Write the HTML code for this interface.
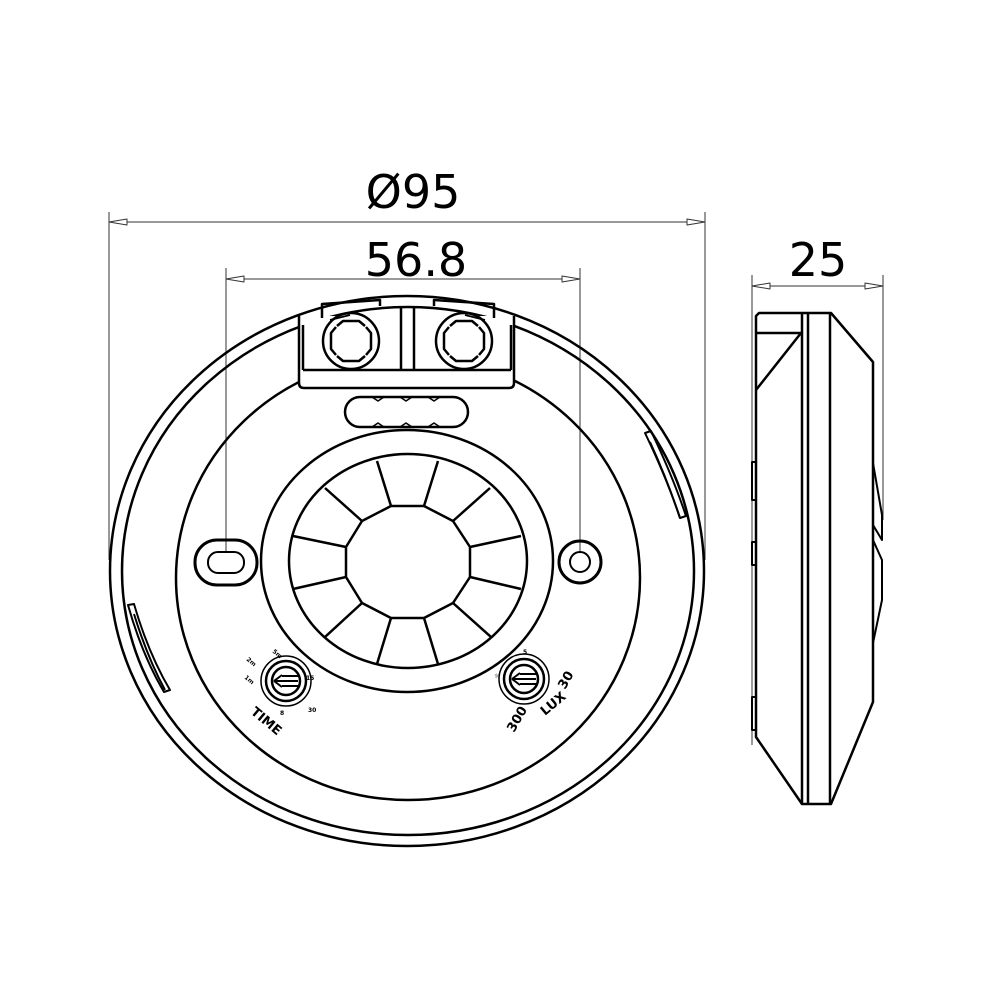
<!DOCTYPE html>
<html><head><meta charset="utf-8"><style>
html,body{margin:0;padding:0;background:#fff;width:1000px;height:1000px;overflow:hidden}
svg{display:block}
text{font-family:"DejaVu Sans","Liberation Sans",sans-serif;fill:#000}
</style></head><body>
<svg width="1000" height="1000" viewBox="0 0 1000 1000" xmlns="http://www.w3.org/2000/svg">
<g fill="none" stroke="#000" stroke-linejoin="round">
<!-- dimension lines -->
<g stroke-width="1" stroke="#333">
<line x1="109" y1="212" x2="109" y2="560"/>
<line x1="705" y1="212" x2="705" y2="560"/>
<line x1="109" y1="222" x2="705" y2="222"/>
<polygon points="109,222 127,219 127,225" fill="#fff"/>
<polygon points="705,222 687,219 687,225" fill="#fff"/>
<line x1="226" y1="268" x2="226" y2="552"/>
<line x1="580" y1="268" x2="580" y2="552"/>
<line x1="226" y1="279" x2="580" y2="279"/>
<polygon points="226,279 244,276 244,282" fill="#fff"/>
<polygon points="580,279 562,276 562,282" fill="#fff"/>
<line x1="752" y1="275" x2="752" y2="745"/>
<line x1="883" y1="275" x2="883" y2="520"/>
<line x1="752" y1="286" x2="883" y2="286"/>
<polygon points="752,286 770,283 770,289" fill="#fff"/>
<polygon points="883,286 865,283 865,289" fill="#fff"/>
</g>
<!-- front body -->
<g stroke-width="2.5">
<ellipse cx="407" cy="571" rx="297" ry="275"/>
<ellipse cx="408" cy="571" rx="286" ry="264"/>
<ellipse cx="408" cy="578" rx="232" ry="222"/>
<ellipse cx="407" cy="561" rx="146" ry="131"/>
<ellipse cx="408" cy="561" rx="119" ry="107"/>
<polygon points="391,506 424,506 453,521 470,547 470,577 453,603 424,618 391,618 362,603 346,577 346,547 362,521"/>
<path d="M391,506L377,461M424,506L438,461M453,521L490,488M470,547L521,536M470,577L521,589M453,603L491,637M424,618L438,664M391,618L377,664M362,603L325,637M346,577L293,589M346,547L293,536M362,521L325,488"/>
</g>
<!-- terminal block -->
<g stroke-width="2.5">
<rect x="300" y="316" width="214" height="72" rx="5" fill="#fff" stroke="none"/>
<path d="M299,316 L299,383 Q299,388 304,388 L509,388 Q514,388 514,383 L514,316"/>
<path d="M322,318 L322,304 L380,300 L380,306"/>
<path d="M434,306 L434,300 L494,304 L494,318"/>
<path d="M330,320 L350,315 M465,315 L485,320" stroke-width="1.8"/>
<line x1="303" y1="370" x2="511" y2="370"/>
<line x1="401" y1="308" x2="401" y2="370"/>
<line x1="414" y1="308" x2="414" y2="370"/>
<line x1="303" y1="325" x2="303" y2="370"/>
<line x1="511" y1="325" x2="511" y2="370"/>
<circle cx="351" cy="341" r="28"/>
<circle cx="464" cy="341" r="28"/>
<path d="M337,326 L343,321 L359,321 L365,326 M366,327 L371,333 L371,349 L366,355 M365,356 L359,361 L343,361 L337,356 M336,355 L331,349 L331,333 L336,327"/>
<path d="M450,326 L456,321 L472,321 L478,326 M479,327 L484,333 L484,349 L479,355 M478,356 L472,361 L456,361 L450,356 M449,355 L444,349 L444,333 L449,327"/>
<rect x="345" y="397" width="123" height="30" rx="15"/>
<path d="M372,397l6,4 6,-4 M400,397l6,4 6,-4 M428,397l6,4 6,-4 M372,427l6,-4 6,4 M400,427l6,-4 6,4 M428,427l6,-4 6,4" stroke-width="1.5"/>
</g>
<!-- mounting holes -->
<g stroke-width="3">
<rect x="195" y="540" width="62" height="45" rx="22"/>
<rect x="208" y="552" width="36" height="21" rx="10" stroke-width="2"/>
<circle cx="580" cy="562" r="21"/>
<circle cx="580" cy="562" r="10" stroke-width="2"/>
</g>
<!-- side notches on rim -->
<g stroke-width="2">
<path d="M645,433 L651,431 C664,458 676,486 686,516 L680,518 C670,488 658,460 645,433Z"/>
<path d="M650,442 C662,468 672,494 680,518"/>
<path d="M128,605 L134,604 C143,635 154,663 170,690 L164,692 C148,665 137,637 128,605Z"/>
<path d="M134,614 C142,640 152,666 165,690"/>
</g>
<!-- knobs -->
<g stroke-width="2.5">
<circle cx="286" cy="681" r="25" stroke-width="1.5"/>
<circle cx="286" cy="681" r="20"/>
<circle cx="286" cy="681" r="14"/>
<path d="M274,681 L298,681 M274,681 l8,-6 M274,681 l8,6 M282,676 L298,676 M282,686 L298,686" stroke-width="2"/>
<circle cx="524" cy="679" r="25" stroke-width="1.5"/>
<circle cx="524" cy="679" r="20"/>
<circle cx="524" cy="679" r="14"/>
<path d="M512,679 L536,679 M512,679 l8,-6 M512,679 l8,6 M520,674 L536,674 M520,684 L536,684" stroke-width="2"/>
</g>
<!-- side view -->
<g stroke-width="2.5">
<path d="M759,313 L831,313 L873,362 L873,702 L831,804 L802,804 L756,737 L756,316 Z"/>
<line x1="802" y1="313" x2="802" y2="804"/>
<line x1="808" y1="313" x2="808" y2="804"/>
<line x1="830" y1="313" x2="830" y2="804"/>
<path d="M756,333 L801,333 L756,390"/>
<path d="M873,463 L882,515 L882,540 L873,525 M873,540 L882,560 L882,600 L873,643" stroke-width="2"/>
<path d="M756,462 L752,462 L752,500 L756,500 M756,542 L752,542 L752,565 L756,565 M756,697 L752,697 L752,730 L756,730" stroke-width="2"/>
</g>
</g>
<text x="413" y="208" font-size="46" text-anchor="middle">Ø95</text>
<text x="416" y="276" font-size="46" text-anchor="middle">56.8</text>
<text x="818" y="276" font-size="46" text-anchor="middle">25</text>
<g font-size="13" font-weight="bold">
<text x="250" y="713" transform="rotate(40 250 713)">TIME</text>
<text x="545" y="716" transform="rotate(-40 545 716)">LUX</text>
<text x="514" y="733" transform="rotate(-60 514 733)">300</text>
<text x="565" y="690" transform="rotate(-60 565 690)">30</text>
</g>
<g font-size="6" font-weight="bold">
<text x="272" y="652" transform="rotate(40 272 652)">5m</text>
<text x="246" y="660" transform="rotate(40 246 660)">2m</text>
<text x="244" y="678" transform="rotate(40 244 678)">1m</text>
<text x="306" y="680">15</text>
<text x="280" y="715">8</text>
<text x="308" y="712">30</text>
<text x="494" y="678">☼</text>
<text x="523" y="654">5</text>
</g>
</svg>
</body></html>
